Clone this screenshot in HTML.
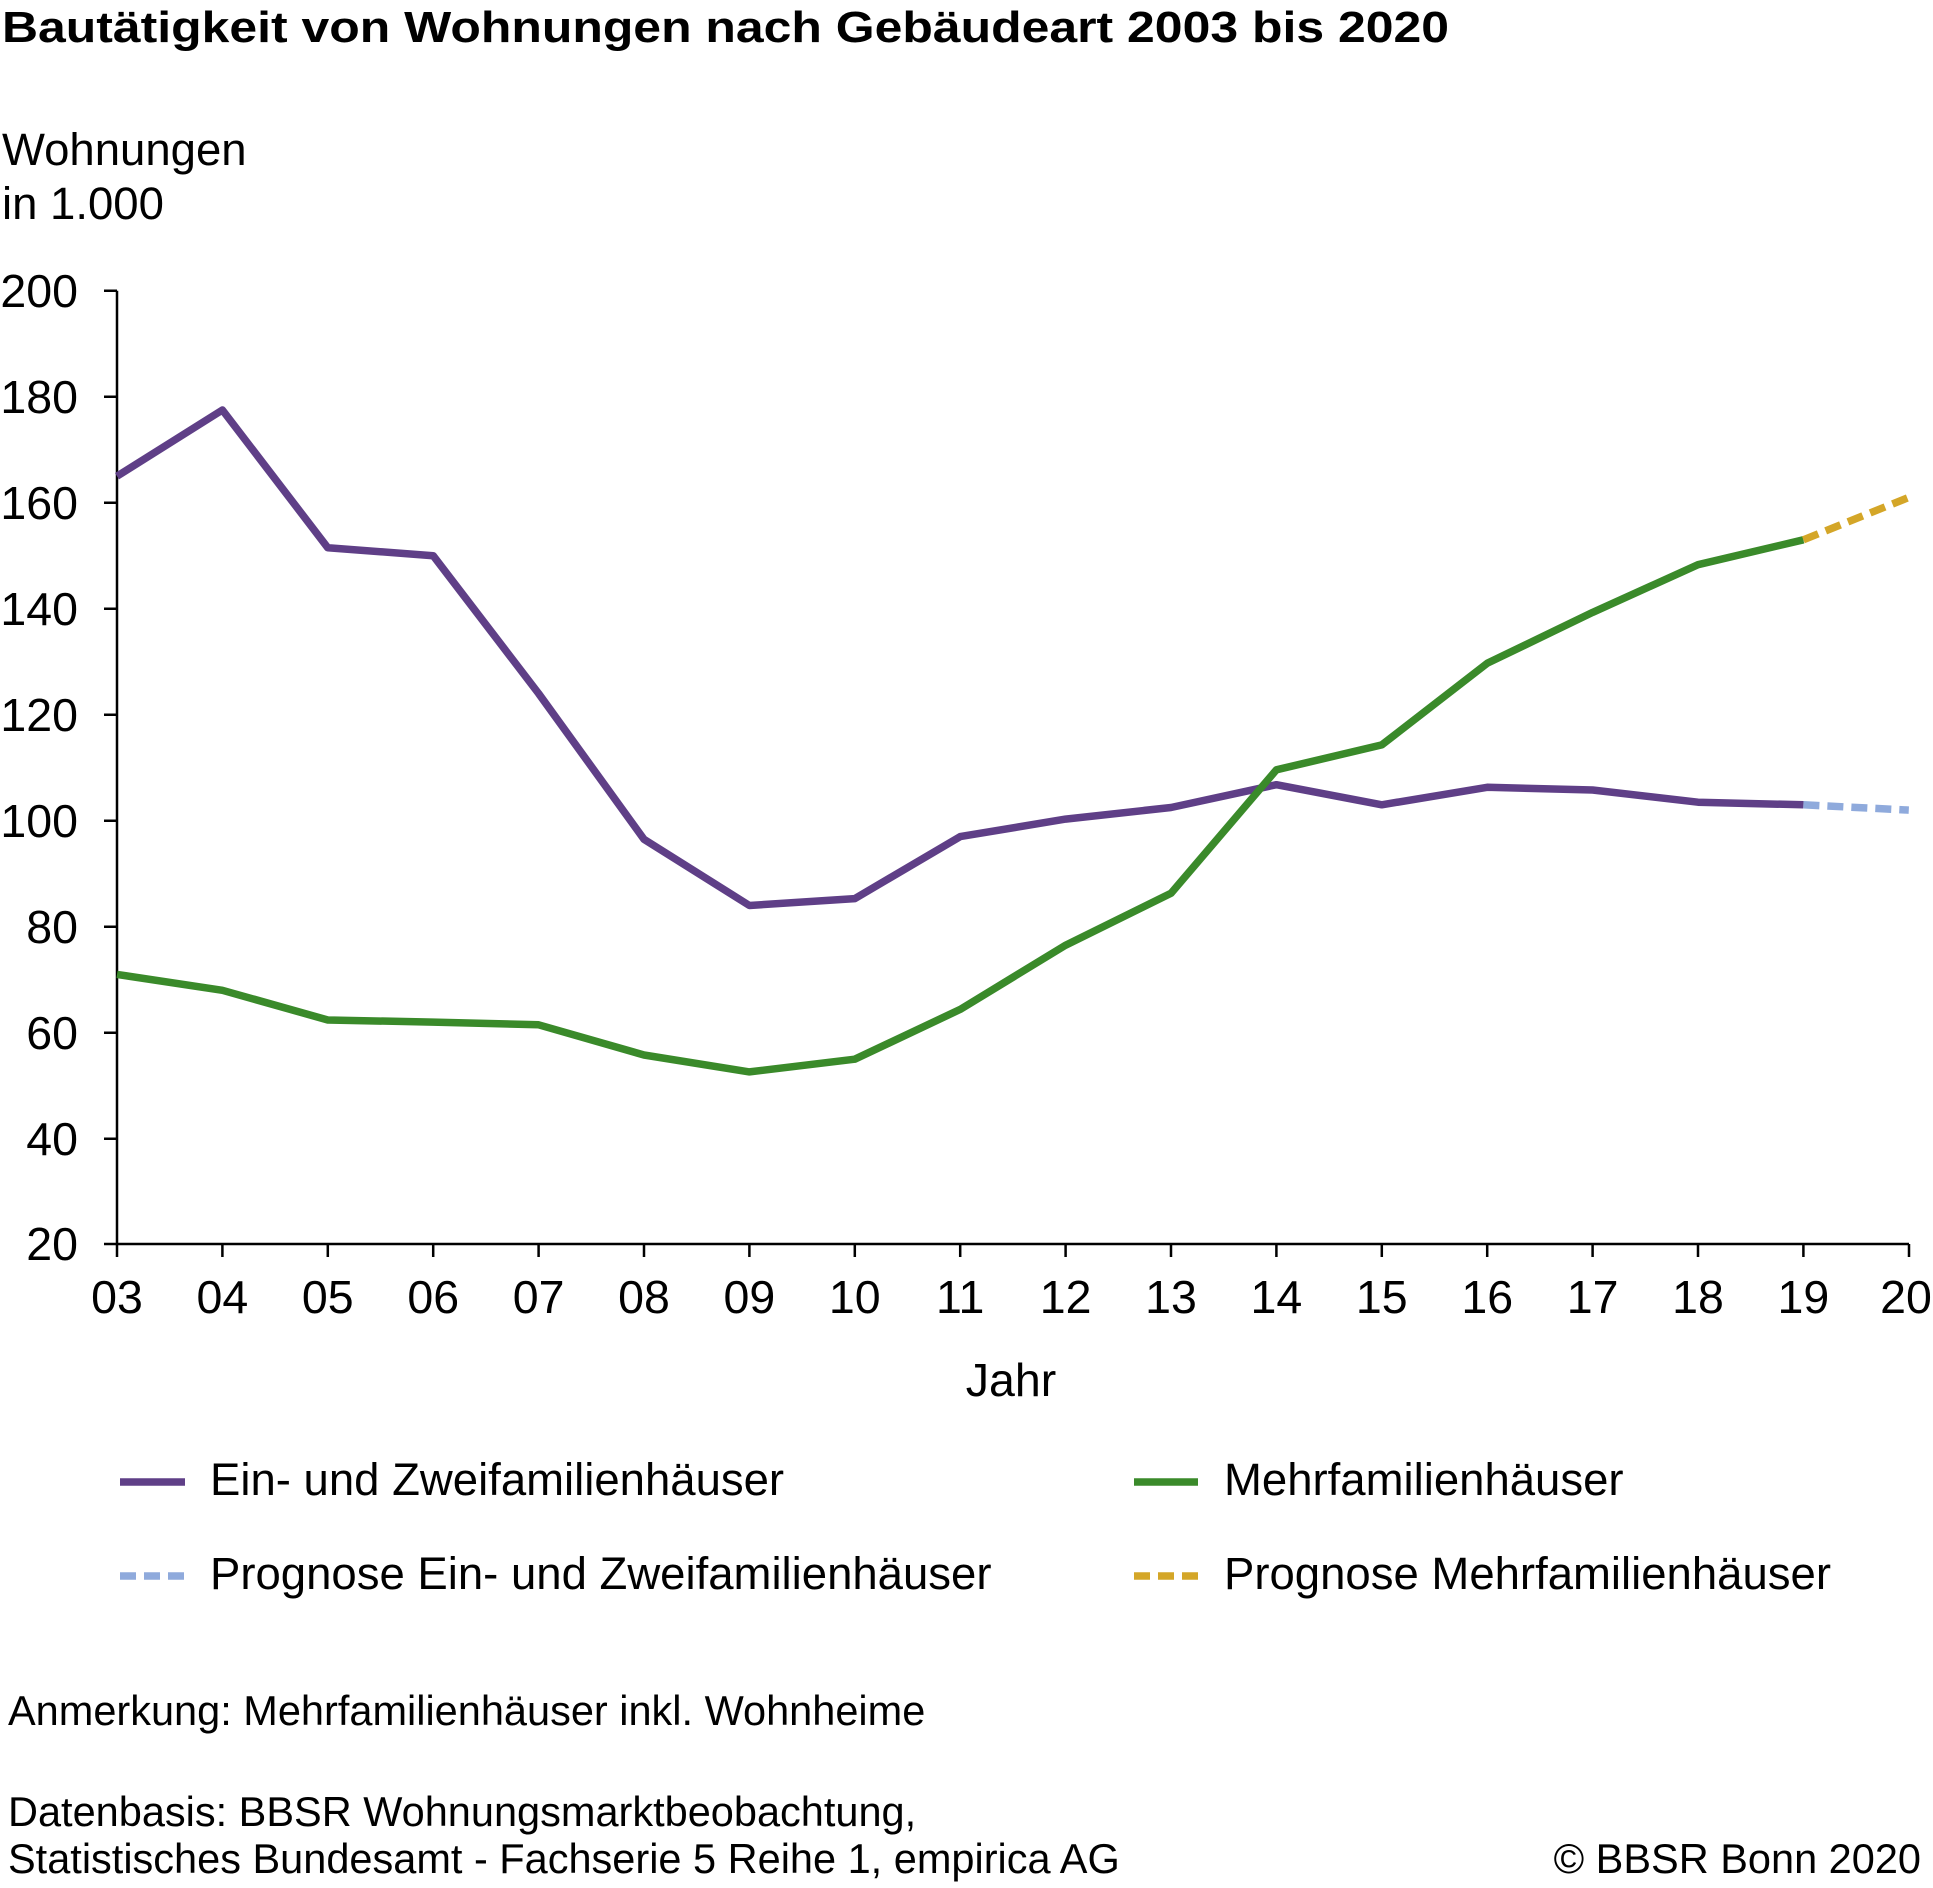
<!DOCTYPE html>
<html><head><meta charset="utf-8"><style>body{margin:0;background:#fff}svg{display:block}text{font-family:"Liberation Sans",Arial,sans-serif;fill:#000}</style></head><body>
<svg width="1933" height="1888" viewBox="0 0 1933 1888" xmlns="http://www.w3.org/2000/svg">
<text x="2" y="42" font-size="44" font-weight="bold" textLength="1447" lengthAdjust="spacingAndGlyphs">Bautätigkeit von Wohnungen nach Gebäudeart 2003 bis 2020</text>
<text x="2" y="165" font-size="45.5">Wohnungen</text>
<text x="2" y="219" font-size="45.5">in 1.000</text>
<g stroke="#000" stroke-width="2.5" fill="none">
<path d="M117 290.7V1244H1909"/>
<path d="M104 290.7h13M104 396.7h13M104 502.7h13M104 608.7h13M104 714.7h13M104 820.7h13M104 926.7h13M104 1032.7h13M104 1138.7h13M104 1244h13"/>
<path d="M117 1244v13M222.4 1244v13M327.8 1244v13M433.2 1244v13M538.6 1244v13M644 1244v13M749.4 1244v13M854.8 1244v13M960.2 1244v13M1065.6 1244v13M1171 1244v13M1276.4 1244v13M1381.8 1244v13M1487.2 1244v13M1592.6 1244v13M1698 1244v13M1803.4 1244v13M1909 1244v13"/>
</g>
<g font-size="46.5" text-anchor="end">
<text x="78" y="307">200</text><text x="78" y="413">180</text><text x="78" y="519">160</text><text x="78" y="625">140</text><text x="78" y="731">120</text><text x="78" y="837">100</text><text x="78" y="943">80</text><text x="78" y="1049">60</text><text x="78" y="1155">40</text><text x="78" y="1260">20</text>
</g>
<g font-size="46.5" text-anchor="middle">
<text x="117" y="1313">03</text><text x="222.4" y="1313">04</text><text x="327.8" y="1313">05</text><text x="433.2" y="1313">06</text><text x="538.6" y="1313">07</text><text x="644" y="1313">08</text><text x="749.4" y="1313">09</text><text x="854.8" y="1313">10</text><text x="960.2" y="1313">11</text><text x="1065.6" y="1313">12</text><text x="1171" y="1313">13</text><text x="1276.4" y="1313">14</text><text x="1381.8" y="1313">15</text><text x="1487.2" y="1313">16</text><text x="1592.6" y="1313">17</text><text x="1698" y="1313">18</text><text x="1803.4" y="1313">19</text><text x="1906" y="1313">20</text>
<text x="1011" y="1396">Jahr</text>
</g>
<g fill="none" stroke-width="7.5" stroke-linejoin="round">
<polyline stroke="#5f3f87" points="117,476.2 222.4,410 327.8,547.8 433.2,555.7 538.6,693.5 644,839.3 749.4,905.5 854.8,898.6 960.2,836.6 1065.6,819.1 1171,807.5 1276.4,784.7 1381.8,804.8 1487.2,787.3 1592.6,790 1698,802.2 1803.4,804.8"/>
<polyline stroke="#3a8a2a" points="117,974.4 222.4,990.3 327.8,1020 433.2,1022.1 538.6,1024.8 644,1055 749.4,1071.9 854.8,1059.2 960.2,1009.4 1065.6,945.2 1171,893.3 1276.4,769.8 1381.8,744.9 1487.2,663.3 1592.6,612.4 1698,564.7 1803.4,539.8"/>
<line x1="1803.4" y1="804.8" x2="1908.8" y2="810.1" stroke="#8faadc" stroke-dasharray="16 8"/>
<line x1="1803.4" y1="539.8" x2="1908.8" y2="497.4" stroke="#d4a628" stroke-dasharray="16 8"/>
<line x1="120" y1="1482" x2="185" y2="1482" stroke="#5f3f87"/>
<line x1="1134" y1="1482" x2="1198" y2="1482" stroke="#3a8a2a"/>
<line x1="120" y1="1576" x2="185" y2="1576" stroke="#8faadc" stroke-dasharray="16 8"/>
<line x1="1134" y1="1576" x2="1198" y2="1576" stroke="#d4a628" stroke-dasharray="16 8"/>
</g>
<g font-size="45.5">
<text x="210" y="1495">Ein- und Zweifamilienhäuser</text>
<text x="1224" y="1495">Mehrfamilienhäuser</text>
<text x="210" y="1589">Prognose Ein- und Zweifamilienhäuser</text>
<text x="1224" y="1589">Prognose Mehrfamilienhäuser</text>
</g>
<g font-size="41.5">
<text x="8" y="1725">Anmerkung: Mehrfamilienhäuser inkl. Wohnheime</text>
<text x="8" y="1826">Datenbasis: BBSR Wohnungsmarktbeobachtung,</text>
<text x="8" y="1873">Statistisches Bundesamt - Fachserie 5 Reihe 1, empirica AG</text>
<text x="1921" y="1873" text-anchor="end">© BBSR Bonn 2020</text>
</g>
</svg>
</body></html>
